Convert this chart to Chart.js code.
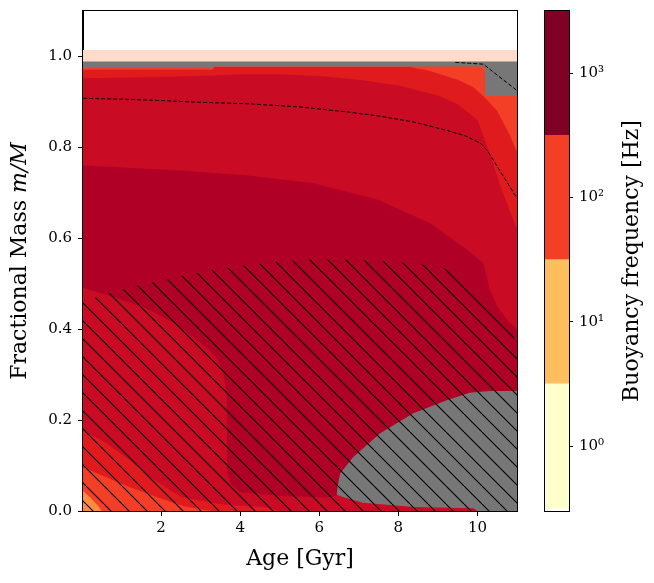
<!DOCTYPE html>
<html>
<head>
<meta charset="utf-8">
<script src="https://cdn.jsdelivr.net/npm/chart.js@4.4.0/dist/chart.umd.min.js"></script>
<style>
  html, body { margin: 0; padding: 0; background: #fff; }
  #wrap { position: relative; width: 654px; height: 583px; }
  #main { position: absolute; left: 0; top: 0; width: 530px; height: 583px; }
  #cbar { position: absolute; left: 530px; top: 0; width: 124px; height: 583px; }
</style>
</head>
<body>
<div id="wrap">
  <canvas id="main" width="530" height="583"></canvas>
  <canvas id="cbar" width="124" height="583"></canvas>
</div>
<script>
// axes
const AGE_RANGE = [0.025, 11.0]
const MASS_RANGE = [0, 1.1]
const X_TICKS = [2, 4, 6, 8, 10]
const Y_TICKS = [0, 0.2, 0.4, 0.6, 0.8, 1.0]

// region boundaries: upper edge of each filled zone (age in Gyr, m/M)
const SURFACE_AGE = [0, 11]
const SURFACE_TOP = [1.014, 1.014]
const GREY_AGE = [0, 11]
const GREY_TOP = [0.989, 0.989]
const ORANGE_AGE = [0, 3.3, 3.35, 10.18, 10.2, 11]
const ORANGE_TOP = [0.975, 0.975, 0.978, 0.978, 0.913, 0.913]
const RED_AGE = [0, 3.3, 3.35, 8.3, 8.8, 9.5, 9.9, 10.2, 10.5, 10.8, 11]
const RED_TOP = [0.971, 0.971, 0.977, 0.977, 0.968, 0.949, 0.932, 0.908, 0.88, 0.83, 0.79]
const CRIMSON_AGE = [0, 2, 3.3, 4, 5, 6, 7, 8, 9, 9.5, 10, 10.3, 10.6, 11]
const CRIMSON_TOP = [0.952, 0.955, 0.958, 0.961, 0.961, 0.957, 0.949, 0.936, 0.914, 0.895, 0.86, 0.79, 0.71, 0.62]
const DARK_AGE = [0, 2.5, 4.2, 5.85, 7.5, 8.8, 9.65, 10.15, 10.3, 10.5, 10.8, 11]
const DARK_TOP = [0.76, 0.749, 0.738, 0.721, 0.684, 0.633, 0.58, 0.545, 0.49, 0.45, 0.415, 0.40]
const BLOB_AGE = [6.44, 6.46, 6.53, 6.86, 7.54, 8.38, 9.24, 9.8, 10.3, 11]
const BLOB_TOP = [0.035, 0.053, 0.083, 0.119, 0.171, 0.215, 0.244, 0.26, 0.264, 0.264]
const CORE_AGE = [0, 0.8, 1.6, 2.4, 2.9, 3.2, 3.4, 3.58, 3.66, 3.67, 3.75, 4.0, 5.0, 6.0, 6.3, 6.46, 6.6, 7.1, 8.4, 9.9, 10.0]
const CORE_TOP = [0.492, 0.47, 0.447, 0.41, 0.376, 0.355, 0.338, 0.303, 0.25, 0.09, 0.06, 0.042, 0.033, 0.03, 0.03, 0.035, 0.031, 0.018, 0.009, 0.006, 0]
const CORE_RED_AGE = [0, 0.6, 1.2, 1.8, 2.5, 3.5, 4.6, 5.0]
const CORE_RED_TOP = [0.178, 0.15, 0.112, 0.07, 0.031, 0.015, 0.009, 0]
const CORE_ORANGE_AGE = [0, 0.6, 1.2, 2.1, 2.6, 3.3]
const CORE_ORANGE_TOP = [0.097, 0.075, 0.053, 0.024, 0.01, 0]
const CORE_YELLOW_AGE = [0, 0.2, 0.4, 0.5]
const CORE_YELLOW_TOP = [0.046, 0.03, 0.012, 0]
const HATCH_AGE = [0, 0.7, 1.5, 2.4, 3.3, 4.2, 5.0, 5.85, 7.0, 8.4, 9.4, 9.9, 10.2, 10.5, 10.9, 11]
const HATCH_TOP = [0.459, 0.48, 0.498, 0.514, 0.53, 0.541, 0.549, 0.554, 0.552, 0.545, 0.53, 0.5, 0.475, 0.44, 0.398, 0.33]

// dashed boundaries
const DASH_LOW_AGE = [0.03, 1, 2, 3, 4.18, 5.5, 6.7, 7.5, 8.38, 9.24, 9.7, 10.08, 10.25, 10.5, 10.8, 11]
const DASH_LOW = [0.908, 0.906, 0.903, 0.899, 0.896, 0.889, 0.878, 0.869, 0.856, 0.837, 0.825, 0.809, 0.793, 0.758, 0.716, 0.688]
const DASH_HIGH_AGE = [9.44, 9.8, 10.15, 10.5, 11]
const DASH_HIGH = [0.987, 0.985, 0.983, 0.959, 0.925]

// colorbar
const CBAR_BOUNDS = [0.3162, 3.162, 31.62, 316.2, 3162]
const CBAR_COLORS = ["#ffffcc", "#febe5f", "#f23f25", "#800026"]
const CBAR_TICKS = [1, 10, 100, 1000]
const CBAR_TICK_LABELS = ["10⁰", "10¹", "10²", "10³"]

const FONT = "DejaVu Serif"
const LABEL_SIZE = 22
const TICK_SIZE = 15

function pts(xs, ys) {
    return xs.map((x, i) => ({ x: x, y: ys[i] }))
}

function hatchPattern(ctx) {
    const s = 18
    const c = document.createElement("canvas")
    c.width = s
    c.height = s
    const g = c.getContext("2d")
    g.strokeStyle = "#000"
    g.lineWidth = 1.1
    for (const k of [-1, 0, 1]) {
        g.beginPath()
        g.moveTo(k * s, 0)
        g.lineTo(k * s + s, s)
        g.stroke()
    }
    const p = ctx.createPattern(c, "repeat")
    p.setTransform(new DOMMatrix().translate(14, 0))
    return p
}

// keep tick labels from pushing the plot area around
function noPad(s) {
    s.paddingTop = 0
    s.paddingBottom = 0
    s.paddingLeft = 0
    s.paddingRight = 0
}

const mainCtx = document.getElementById("main").getContext("2d")

// painted in this order, later ones on top
const layers = [
    [SURFACE_AGE, SURFACE_TOP, "#fedcc9"],
    [GREY_AGE, GREY_TOP, "#777777"],
    [ORANGE_AGE, ORANGE_TOP, "#f23f25"],
    [RED_AGE, RED_TOP, "#e01b1e"],
    [CRIMSON_AGE, CRIMSON_TOP, "#c90b23"],
    [DARK_AGE, DARK_TOP, "#b10026"],
    [BLOB_AGE, BLOB_TOP, "#777777"],
    [CORE_AGE, CORE_TOP, "#c90b23"],
    [CORE_RED_AGE, CORE_RED_TOP, "#e01b1e"],
    [CORE_ORANGE_AGE, CORE_ORANGE_TOP, "#f23f25"],
    [CORE_YELLOW_AGE, CORE_YELLOW_TOP, "#fd8d3c"],
    [HATCH_AGE, HATCH_TOP, hatchPattern(mainCtx)],
]

const datasets = layers.map((l, i) => ({
    data: pts(l[0], l[1]),
    backgroundColor: l[2],
    borderWidth: 0,
    pointRadius: 0,
    fill: "origin",
    order: 100 - i,
}))
datasets.push({
    data: pts(DASH_LOW_AGE, DASH_LOW),
    borderColor: "#000",
    borderWidth: 1,
    borderDash: [4, 2],
    pointRadius: 0,
    fill: false,
    order: 1,
})
datasets.push({
    data: pts(DASH_HIGH_AGE, DASH_HIGH),
    borderColor: "#000",
    borderWidth: 1,
    borderDash: [4, 2],
    pointRadius: 0,
    fill: false,
    order: 0,
})

// frame and the y title (with italic m/M)
const framePlugin = {
    id: "frame",
    afterDraw(chart) {
        const { ctx, chartArea } = chart
        ctx.save()
        ctx.strokeStyle = "#000"
        ctx.lineWidth = 1
        ctx.strokeRect(chartArea.left - 0.5, chartArea.top - 0.5, chartArea.right - chartArea.left + 1, chartArea.bottom - chartArea.top + 1)
        ctx.translate(20, (chartArea.top + chartArea.bottom) / 2)
        ctx.rotate(-Math.PI / 2)
        ctx.fillStyle = "#000"
        ctx.textBaseline = "middle"
        ctx.textAlign = "left"
        const a = "Fractional Mass "
        const b = "m/M"
        const up = LABEL_SIZE + "px '" + FONT + "'"
        const it = "italic " + up
        ctx.font = up
        const wa = ctx.measureText(a).width
        ctx.font = it
        const wb = ctx.measureText(b).width
        const x0 = -(wa + wb) / 2
        ctx.font = up
        ctx.fillText(a, x0, 0)
        ctx.font = it
        ctx.fillText(b, x0 + wa, 0)
        ctx.restore()
    },
}

new Chart(mainCtx, {
    type: "line",
    data: { datasets: datasets },
    options: {
        responsive: false,
        animation: false,
        layout: { padding: { top: 11, right: 13, left: 0, bottom: 0 } },
        plugins: { legend: { display: false }, tooltip: { enabled: false } },
        elements: { line: { tension: 0 } },
        scales: {
            x: {
                type: "linear",
                min: AGE_RANGE[0],
                max: AGE_RANGE[1],
                afterBuildTicks: (s) => { s.ticks = X_TICKS.map((v) => ({ value: v })) },
                afterFit: (s) => { s.height = 72; noPad(s) },
                grid: { drawOnChartArea: false, tickLength: 5, tickColor: "#000" },
                border: { color: "#000" },
                ticks: { color: "#000", font: { family: FONT, size: TICK_SIZE }, padding: 3, maxRotation: 0 },
                title: { display: true, text: "Age [Gyr]", color: "#000", font: { family: FONT, size: LABEL_SIZE }, padding: { top: 0, bottom: 11 } },
            },
            y: {
                type: "linear",
                min: MASS_RANGE[0],
                max: MASS_RANGE[1],
                afterBuildTicks: (s) => { s.ticks = Y_TICKS.map((v) => ({ value: v })) },
                afterFit: (s) => { s.width = 83; noPad(s) },
                grid: { drawOnChartArea: false, tickLength: 5, tickColor: "#000" },
                border: { color: "#000" },
                ticks: { color: "#000", font: { family: FONT, size: TICK_SIZE }, padding: 6, callback: (v) => Number(v).toFixed(1) },
            },
        },
    },
    plugins: [framePlugin],
})

// colorbar
const cbarPlugin = {
    id: "cbarLabel",
    afterDraw(chart) {
        const { ctx, chartArea } = chart
        ctx.save()
        ctx.strokeStyle = "#000"
        ctx.lineWidth = 1
        ctx.strokeRect(chartArea.left - 0.5, chartArea.top - 0.5, chartArea.right - chartArea.left + 1, chartArea.bottom - chartArea.top + 1)
        ctx.translate(102, (chartArea.top + chartArea.bottom) / 2)
        ctx.rotate(-Math.PI / 2)
        ctx.fillStyle = "#000"
        ctx.textAlign = "center"
        ctx.textBaseline = "middle"
        ctx.font = LABEL_SIZE + "px '" + FONT + "'"
        ctx.fillText("Buoyancy frequency [Hz]", 0, 0)
        ctx.restore()
    },
}

new Chart(document.getElementById("cbar").getContext("2d"), {
    type: "bar",
    data: {
        labels: ["N"],
        datasets: CBAR_COLORS.map((c, i) => ({
            data: [[CBAR_BOUNDS[i], CBAR_BOUNDS[i + 1]]],
            backgroundColor: c,
            borderWidth: 0,
            barPercentage: 1,
            categoryPercentage: 1,
            grouped: false,
        })),
    },
    options: {
        responsive: false,
        animation: false,
        layout: { padding: { top: 11, left: 15, right: 0, bottom: 72 } },
        plugins: { legend: { display: false }, tooltip: { enabled: false } },
        scales: {
            x: { display: false },
            y: {
                type: "logarithmic",
                position: "right",
                min: CBAR_BOUNDS[0],
                max: CBAR_BOUNDS[CBAR_BOUNDS.length - 1],
                afterBuildTicks: (s) => { s.ticks = CBAR_TICKS.map((v) => ({ value: v })) },
                afterFit: (s) => { s.width = 85; noPad(s) },
                grid: { drawOnChartArea: false, tickLength: 4, tickColor: "#000" },
                border: { color: "#000" },
                ticks: {
                    color: "#000",
                    font: { family: FONT, size: TICK_SIZE },
                    padding: 6,
                    callback: (v) => CBAR_TICK_LABELS[CBAR_TICKS.indexOf(v)] ?? "",
                },
            },
        },
    },
    plugins: [cbarPlugin],
})
</script>
</body>
</html>
